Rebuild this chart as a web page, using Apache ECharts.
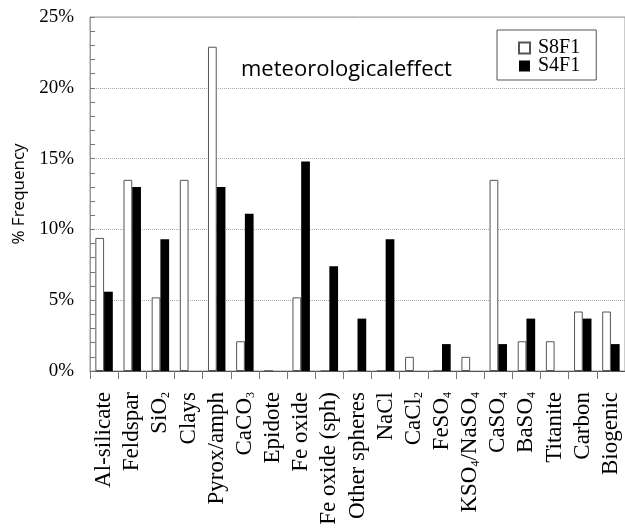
<!DOCTYPE html>
<html>
<head>
<meta charset="utf-8">
<script src="https://cdn.jsdelivr.net/npm/echarts@6/dist/echarts.min.js"></script>
<style>
  html, body { margin: 0; padding: 0; background: #fff; }
  #chart { width: 625px; height: 528px; }
</style>
</head>
<body>
<div id="chart"></div>
<script>
// Particle classes (subscript digits are rendered small via rich text)
const categories = [
  'Al-silicate', 'Feldspar', 'SiO₂', 'Clays', 'Pyrox/amph', 'CaCO₃', 'Epidote',
  'Fe oxide', 'Fe oxide (sph)', 'Other spheres', 'NaCl', 'CaCl₂', 'FeSO₄',
  'KSO₄/NaSO₄', 'CaSO₄', 'BaSO₄', 'Titanite', 'Carbon', 'Biogenic'
];
// % frequency per class
const s8f1 = [9.4, 13.5, 5.2, 13.5, 22.9, 2.1, 0, 5.2, 0, 0, 0, 1.0, 0, 1.0, 13.5, 2.1, 2.1, 4.2, 4.2];
const s4f1 = [5.6, 13.0, 9.3, 0, 13.0, 11.1, 0, 14.8, 7.4, 3.7, 9.3, 0, 1.9, 0, 1.9, 3.7, 0, 3.7, 1.9];
const yTicks = [0, 5, 10, 15, 20, 25];

const serif = '"Liberation Serif", "Times New Roman", serif';
const sans = '"Open Sans", "Noto Sans", sans-serif';
const subMap = { '₀': '0', '₁': '1', '₂': '2', '₃': '3', '₄': '4', '₅': '5' };

function toRich(label) {
  return label.replace(/[₀-₅]+/g, m => '{s|' + m.split('').map(c => subMap[c]).join('') + '}')
    .split(/(\{s\|[0-9]+\})/)
    .map(part => part.startsWith('{s|') ? part : (part ? '{n|' + part + '}' : ''))
    .join('');
}

const chart = echarts.init(document.getElementById('chart'), null, { renderer: 'canvas' });

chart.setOption({
  animation: false,
  backgroundColor: '#fff',
  grid: {
    left: 90, right: -4, top: 17, bottom: 157,
    show: true, borderColor: '#9a9a9a', borderWidth: 1, backgroundColor: 'transparent'
  },
  title: {
    text: 'meteorologicaleffect',
    left: 236, top: 54,
    textStyle: { fontFamily: sans, fontSize: 22, fontWeight: 'normal', color: '#000' }
  },
  legend: {
    orient: 'vertical',
    left: 497, top: 30,
    padding: [8, 16, 4, 21],
    itemGap: -2,
    itemWidth: 11, itemHeight: 11,
    borderColor: '#555', borderWidth: 1,
    icon: 'rect',
    textStyle: { fontFamily: serif, fontSize: 20, color: '#000', padding: [0, 0, 0, 3] },
    data: ['S8F1', 'S4F1']
  },
  xAxis: {
    type: 'category',
    data: categories,
    axisLine: { lineStyle: { color: '#555', width: 1 } },
    axisTick: { show: true, length: 8, lineStyle: { color: '#777' } },
    axisLabel: {
      rotate: 90, margin: 21, interval: 0,
      formatter: v => toRich(v),
      rich: {
        n: { fontFamily: serif, fontSize: 23, color: '#000' },
        s: { fontFamily: serif, fontSize: 12, color: '#000', verticalAlign: 'bottom', lineHeight: 17 }
      }
    }
  },
  yAxis: {
    type: 'value',
    min: yTicks[0], max: yTicks[yTicks.length - 1], interval: 5,
    name: '% Frequency',
    nameLocation: 'middle',
    nameGap: 62,
    nameTextStyle: { fontFamily: sans, fontSize: 17, color: '#000' },
    axisLine: { show: true, lineStyle: { color: '#9a9a9a' } },
    axisTick: { show: true, inside: true, length: 5, lineStyle: { color: '#777' } },
    minorTick: { show: true, splitNumber: 5, length: 5, lineStyle: { color: '#777' } },
    axisLabel: {
      margin: 16,
      formatter: '{value}%',
      fontFamily: serif, fontSize: 19, color: '#000'
    },
    splitLine: { show: true, lineStyle: { type: [1, 1], color: '#aaa', width: 1 } }
  },
  series: [
    {
      name: 'S8F1', type: 'bar', data: s8f1,
      barGap: '0%', barCategoryGap: '38%',
      itemStyle: { color: '#fff', borderColor: '#555', borderWidth: 1 }
    },
    {
      name: 'S4F1', type: 'bar', data: s4f1,
      itemStyle: { color: '#000' }
    }
  ]
});
</script>
</body>
</html>
